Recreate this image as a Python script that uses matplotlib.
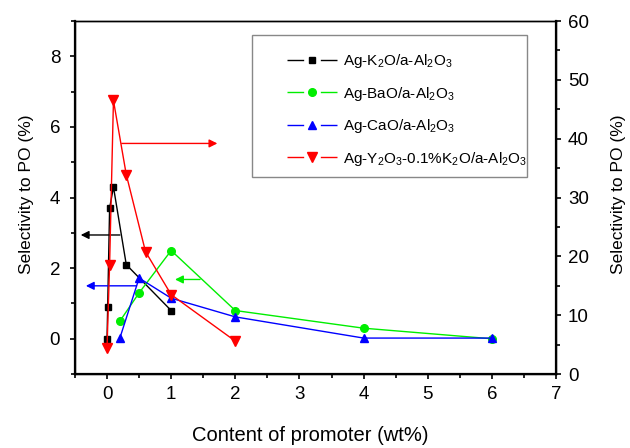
import matplotlib
matplotlib.use("Agg")
import matplotlib.pyplot as plt
from matplotlib.lines import Line2D
from matplotlib.patches import Rectangle

plt.rcParams['font.family'] = ['Liberation Sans', 'DejaVu Sans']
plt.rcParams['mathtext.default'] = 'regular'

# left axis series
k2o_x = [0, 0.01, 0.04, 0.1, 0.3, 1.0]
k2o_y = [0, 0.9, 3.7, 4.3, 2.1, 0.8]
bao_x = [0.2, 0.5, 1.0, 2.0, 4.0, 6.0]
bao_y = [0.5, 1.3, 2.5, 0.8, 0.3, 0.0]
cao_x = [0.2, 0.5, 1.0, 2.0, 4.0, 6.0]
cao_y = [0.02, 1.72, 1.15, 0.62, 0.02, 0.02]
# right axis series
y2o3_x = [0, 0.04, 0.1, 0.3, 0.6, 1.0, 2.0]
y2o3_y = [4.5, 18.6, 46.5, 33.9, 20.8, 13.5, 5.6]

labels = ['Ag-K$_2$O/a-Al$_2$O$_3$', 'Ag-BaO/a-Al$_2$O$_3$',
          'Ag-CaO/a-Al$_2$O$_3$', 'Ag-Y$_2$O$_3$-0.1%K$_2$O/a-Al$_2$O$_3$']
colors = ['black', '#00ee00', '#0000ff', '#ff0000']
markers = ['s', 'o', '^', 'v']
msizes = [5, 5.5, 6, 6.5]

fig = plt.figure(figsize=(6.3, 4.48), dpi=100)
ax = fig.add_axes([0.119, 0.165, 0.7635, 0.788])
ax2 = ax.twinx()

ax.plot(k2o_x, k2o_y, '-s', color=colors[0], lw=1, ms=msizes[0])
ax.plot(bao_x, bao_y, '-o', color=colors[1], lw=1, ms=msizes[1])
ax.plot(cao_x, cao_y, '-^', color=colors[2], lw=1, ms=msizes[2])
ax2.plot(y2o3_x, y2o3_y, '-v', color=colors[3], lw=1, ms=msizes[3])

# arrows pointing to the axis each series belongs to
aprops = dict(arrowstyle='-|>', lw=1, mutation_scale=12, shrinkA=0, shrinkB=0)
ax.annotate('', xy=(-0.41, 2.94), xytext=(0.2, 2.94), arrowprops=dict(color=colors[0], **aprops))
ax.annotate('', xy=(-0.33, 1.5), xytext=(0.46, 1.5), arrowprops=dict(color=colors[2], **aprops))
ax.annotate('', xy=(1.06, 1.68), xytext=(1.45, 1.68), arrowprops=dict(color=colors[1], **aprops))
ax2.annotate('', xy=(1.72, 39.2), xytext=(0.23, 39.2), arrowprops=dict(color=colors[3], **aprops))

ax.set_xlim(-0.5, 7)
ax.set_ylim(-1, 9)
ax2.set_ylim(0, 60)
ax.set_xticks(range(0, 8))
ax.set_xticks([x + 0.5 for x in range(-1, 7)], minor=True)
ax.set_yticks([0, 2, 4, 6, 8])
ax.set_yticks([-1, 1, 3, 5, 7, 9], minor=True)
ax2.set_yticks(range(0, 61, 10))
ax2.set_yticks(range(5, 60, 10), minor=True)

for a in (ax, ax2):
    a.tick_params(which='major', direction='out', length=3.6, width=1.2, labelsize=13.5, pad=5)
    a.tick_params(which='minor', direction='out', length=2.6, width=1.2)
    for s in a.spines.values():
        s.set_linewidth(1)
ax.tick_params(axis='y', pad=7)
for side in ('left', 'bottom'):
    ax.spines[side].set_linewidth(1.6)
ax2.spines['right'].set_linewidth(1.6)

ax.set_xlabel('Content of promoter (wt%)', fontsize=14.5)
ax.xaxis.set_label_coords(0.49, -0.147)
ax.set_ylabel('Selectivity to PO (%)', fontsize=12.5)
ax.yaxis.set_label_coords(-0.085, 0.51)
ax2.set_ylabel('Selectivity to PO (%)', fontsize=12.5)
ax2.yaxis.set_label_coords(1.115, 0.51)

# legend box drawn by hand, entries with a gap in the line around the marker
ax.add_patch(Rectangle((0.368, 0.558), 0.572, 0.402, transform=ax.transAxes,
                       fill=False, edgecolor='#888888', lw=1, zorder=5))
handles = [Line2D([], [], color=c, marker=m, ms=s, lw=1, ls=(0, (12, 12, 12, 100)))
           for c, m, s in zip(colors, markers, msizes)]
ax.legend(handles, labels, loc='upper left', bbox_to_anchor=(0.44, 0.912),
          fontsize=11, frameon=False, handlelength=3.3, handletextpad=0.38,
          borderpad=0, labelspacing=0.95, borderaxespad=0)

fig.savefig('out.png', dpi=100)
